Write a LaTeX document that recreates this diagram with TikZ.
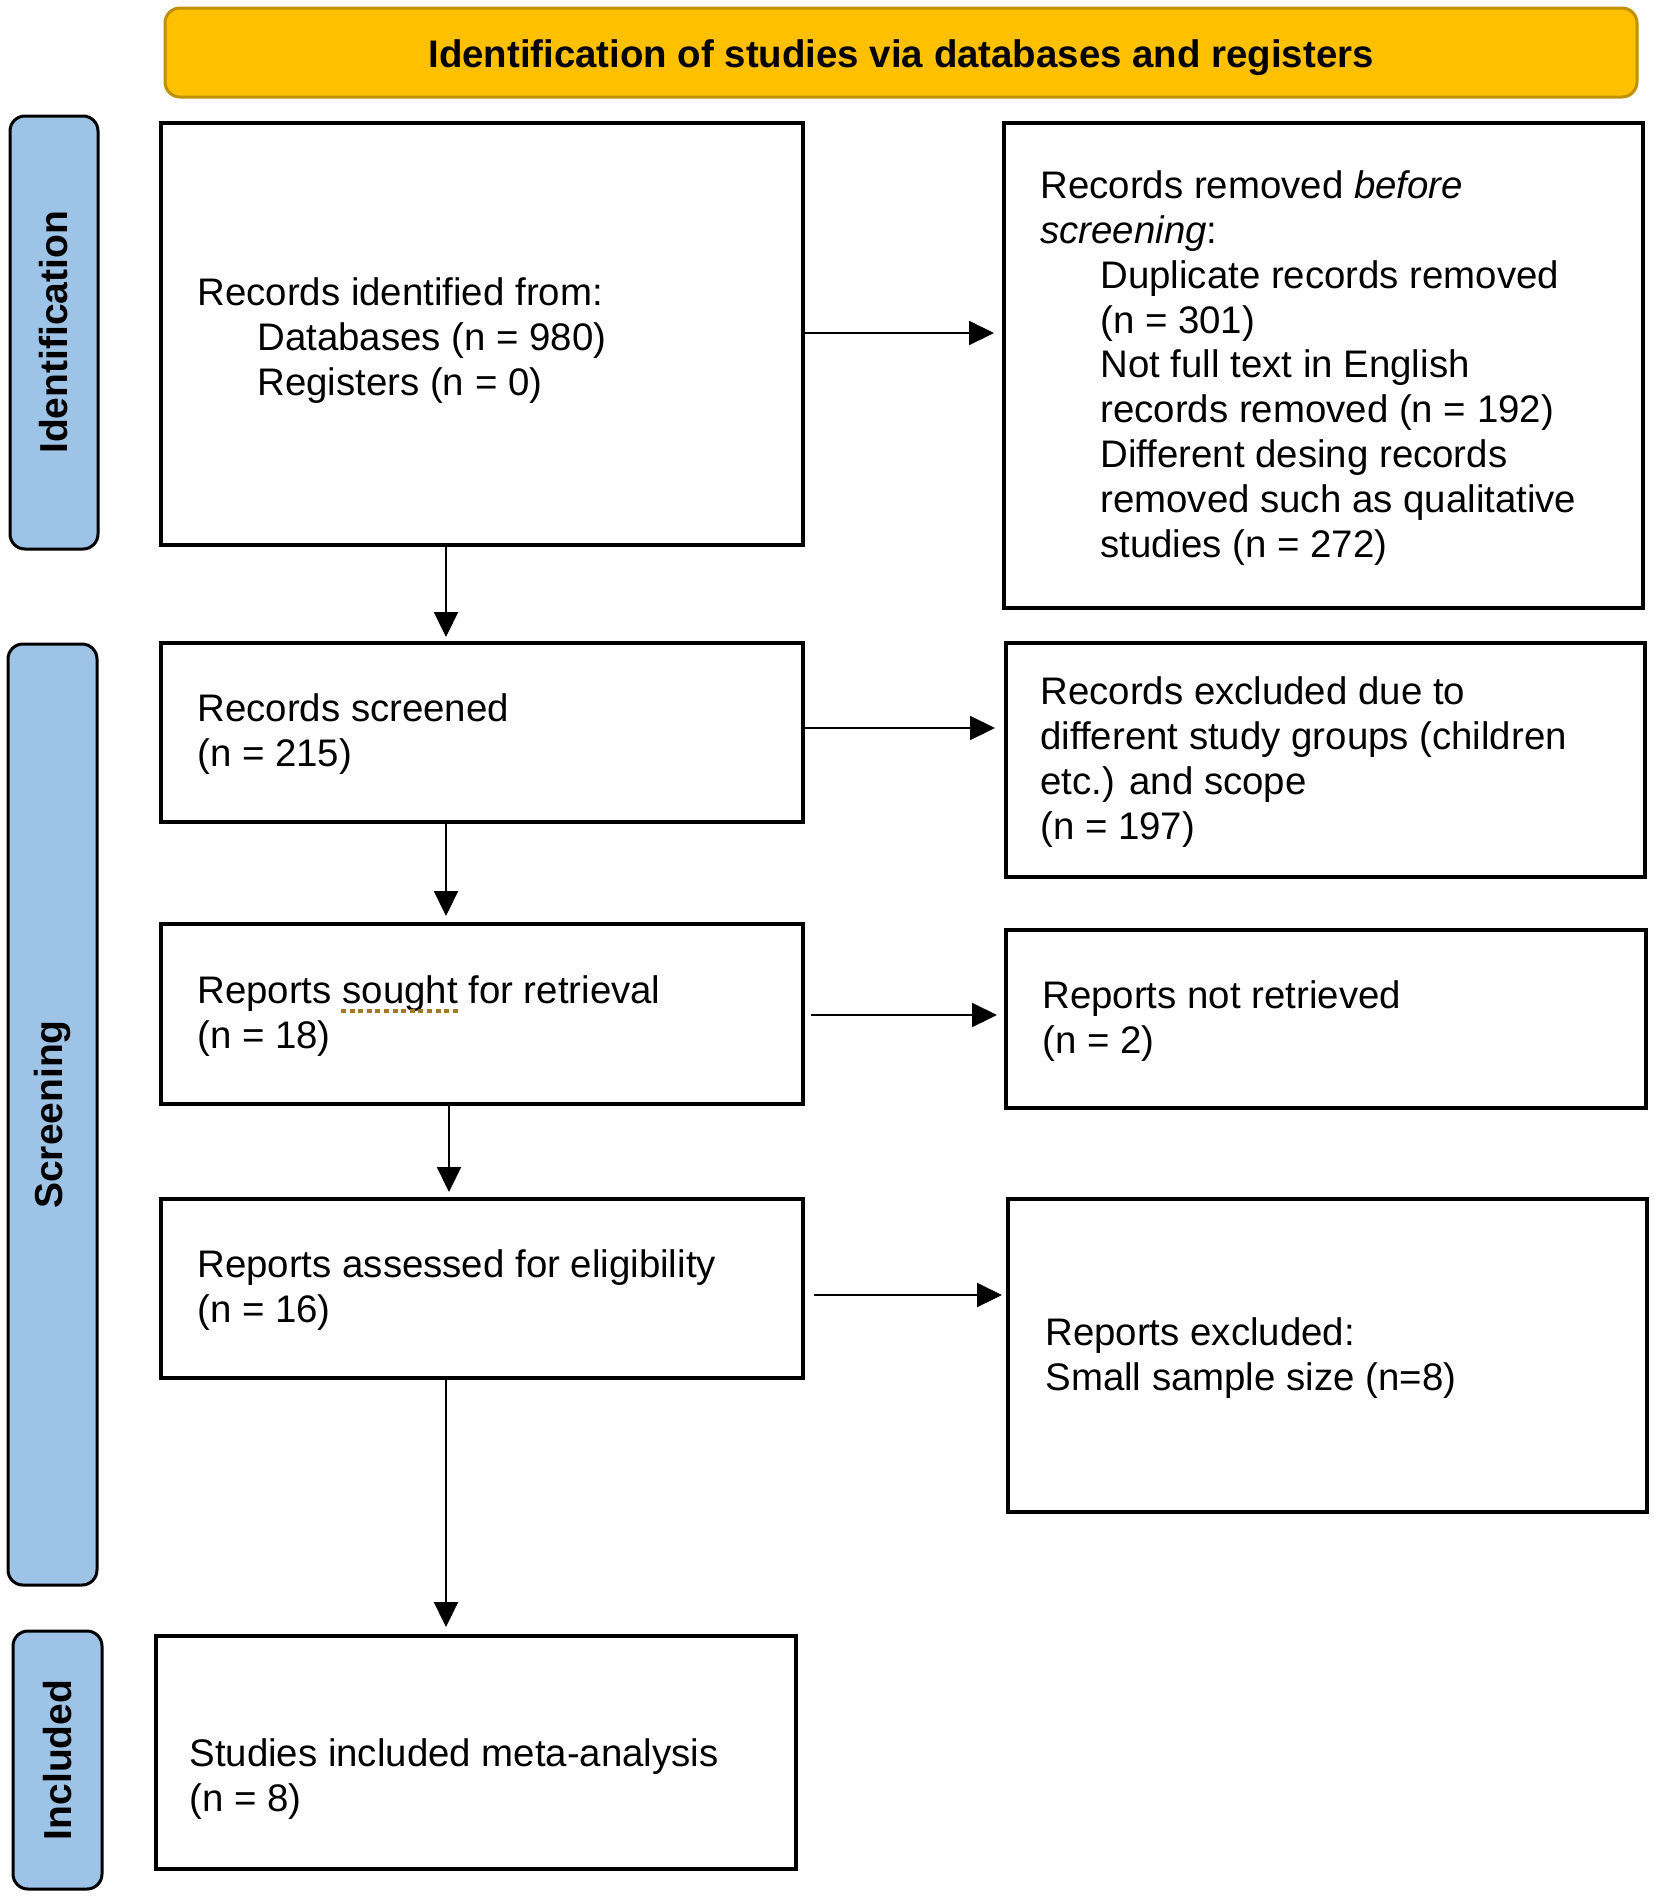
\documentclass[tikz,border=0pt]{standalone}
\usepackage{fontspec}
\setmainfont{Liberation Sans}
\usetikzlibrary{arrows.meta,fit}
\definecolor{gold}{RGB}{255,192,0}
\definecolor{goldline}{RGB}{191,144,0}
\definecolor{sideblue}{RGB}{157,195,230}
\definecolor{spellmark}{RGB}{165,120,40}
\begin{document}
\begin{tikzpicture}[x=0.5pt,y=-0.5pt,
 box/.style={draw=black,line width=2pt,inner sep=0pt},
 side/.style={draw=black,line width=1.5pt,fill=sideblue,rounded corners=7.5pt,inner sep=0pt},
 head/.style={draw=goldline,line width=1.5pt,fill=gold,rounded corners=7.5pt,inner sep=0pt},
 headtxt/.style={inner sep=0pt,font=\fontsize{19.2}{22.4}\selectfont\bfseries},
 txt/.style={anchor=base west,align=left,inner sep=0pt,font=\fontsize{19.2}{22.4}\selectfont},
 lab/.style={rotate=90,font=\fontsize{19.5}{22}\selectfont\bfseries,inner sep=0pt},
 arr/.style={line width=1.1pt,-{Triangle[length=12.5pt,width=12pt]}},
]
\useasboundingbox (0,0) rectangle (1654,1896);

% header
\node[head, fit={(165,8) (1637,97)}] (ttl) {};
\node[headtxt, yshift=-2.5pt] (ttltxt) at (ttl.center) {Identification of studies via databases and registers};

% side bars
\node[side, fit={(10,116) (98,549)}] (sI) {};
\node[side, fit={(8,644) (97,1585)}] (sS) {};
\node[side, fit={(13,1631) (102,1889)}] (sN) {};
\node[lab] (lI) at (sI.center) {Identification};
\node[lab] (lS) at (sS.center) {Screening};
\node[lab] (lN) at (sN.center) {Included};

% boxes
\node[box, fit={(161,123) (803,545)}] (b1) {};
\node[box, fit={(1004,123) (1643,608)}] (r1) {};
\node[box, fit={(161,643) (803,822)}] (b2) {};
\node[box, fit={(1006,643) (1645,877)}] (r2) {};
\node[box, fit={(161,924) (803,1104)}] (b3) {};
\node[box, fit={(1006,930) (1646,1108)}] (r3) {};
\node[box, fit={(161,1199) (803,1378)}] (b4) {};
\node[box, fit={(1008,1199) (1647,1512)}] (r4) {};
\node[box, fit={(156,1636) (796,1869)}] (b5) {};

% texts (anchor = baseline of the last line)
\node[txt] (t1) at (197,395) {Records identified from:\\\hspace*{30pt}Databases (n = 980)\\\hspace*{30pt}Registers (n = 0)};
\node[txt] (tr1) at (1040,557) {Records removed \emph{before}\\\emph{screening}:\\
\hspace*{30pt}Duplicate records removed\\\hspace*{30pt}(n = 301)\\
\hspace*{30pt}Not full text in English\\\hspace*{30pt}records removed (n = 192)\\
\hspace*{30pt}Different desing records\\\hspace*{30pt}removed such as qualitative\\\hspace*{30pt}studies (n = 272)};
\node[txt] (t2) at (197,766) {Records screened\\(n = 215)};
\node[txt] (tr2) at (1040,839) {Records excluded due to\\different study groups (children\\etc.) and scope\\(n = 197)};
\node[txt] (t3) at (197,1048) {Reports sought for retrieval\\(n = 18)};
\node[txt] (tr3) at (1042,1053) {Reports not retrieved\\(n = 2)};
\node[txt] (t4) at (197,1322) {Reports assessed for eligibility\\(n = 16)};
\node[txt] (tr4) at (1045,1390) {Reports excluded:\\Small sample size (n=8)};
\node[txt] (t5) at (189,1811) {Studies included meta-analysis\\(n = 8)};

% spell-check mark under "sought"
\draw[spellmark, line width=1.8pt, dash pattern=on 2.5pt off 1.8pt] (341,1011) -- (458,1011);

% helper coordinates
\coordinate (h1) at (0,333);
\coordinate (h2) at (0,728);
\coordinate (h3) at (0,1015);
\coordinate (h4) at (0,1295);
\coordinate (v1) at (446,0);
\coordinate (v2) at (449,0);

% connectors
\draw[arr, shorten >=4pt] (b1.east |- h1) -- (r1.west |- h1);
\draw[arr, shorten >=4.5pt] (b2.east |- h2) -- (r2.west |- h2);
\draw[arr, shorten <=3pt, shorten >=3.5pt] (b3.east |- h3) -- (r3.west |- h3);
\draw[arr, shorten <=4.5pt, shorten >=2pt] (b4.east |- h4) -- (r4.west |- h4);
\draw[arr, shorten >=2pt] (b1.south -| v1) -- (b2.north -| v1);
\draw[arr, shorten >=3pt] (b2.south -| v1) -- (b3.north -| v1);
\draw[arr, shorten >=2.5pt] (b3.south -| v2) -- (b4.north -| v2);
\draw[arr, shorten >=3.5pt] (b4.south -| v1) -- (b5.north -| v1);
\end{tikzpicture}
\end{document}
